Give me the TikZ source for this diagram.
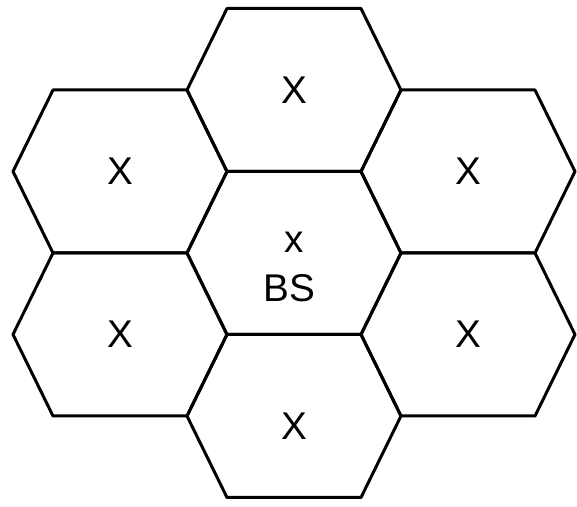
\documentclass[tikz,border=0pt]{standalone}
\usepackage{fontspec}
\setmainfont{Liberation Sans}
\usetikzlibrary{calc}
\newcommand{\hexw}{2.14} % half width of a cell
\newcommand{\hexc}{1.34} % half of the top edge
\newcommand{\hexh}{1.63} % half height of a cell

\begin{document}
\begin{tikzpicture}[
    cellline/.style={line width=1.7pt, line join=round},
    cellmark/.style={font=\fontsize{22}{22}\selectfont}]
  \useasboundingbox (0,0) rectangle (11.54,10.14);
  \coordinate (c) at (5.88,5.08);
  % seven cells round the base station
  \foreach \n/\i/\j in {c/0/0, n/0/2, ne/1/1, se/1/-1, s/0/-2, sw/-1/-1, nw/-1/1} {
    \coordinate (\n) at ($(c)+({\i*(\hexw+\hexc)},{\j*\hexh})$);
    \draw[cellline, shift={(\n)}] (-\hexw,0) -- (-\hexc,\hexh) -- (\hexc,\hexh)
      -- (\hexw,0) -- (\hexc,-\hexh) -- (-\hexc,-\hexh) -- cycle;
  }
  \foreach \n in {n, ne, se, sw, nw} {
    \node[cellmark] (x\n) at (\n) {X};
  }
  \node[cellmark] (xs) at ($(s)+(0,-0.2)$) {X};
  \node[cellmark] (xc) at ($(c)+(0,0.22)$) {x};
  \node[cellmark] (bs) at ($(c)+(-0.1,-0.7)$) {BS};
\end{tikzpicture}
\end{document}
